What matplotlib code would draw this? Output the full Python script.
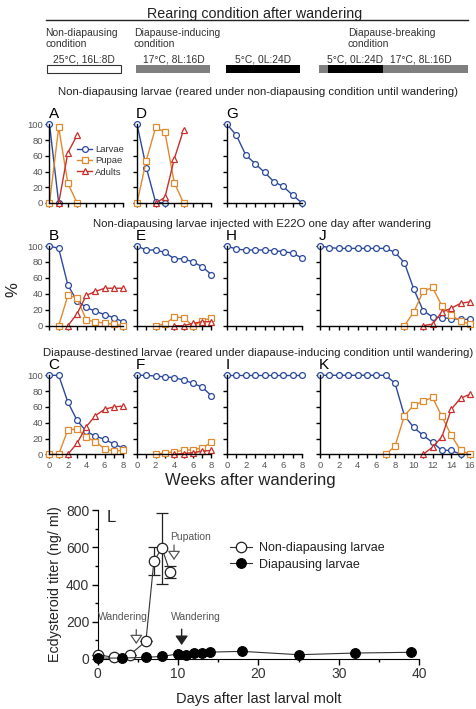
import matplotlib
matplotlib.use("Agg")
import matplotlib.pyplot as plt
from matplotlib.patches import Rectangle
from matplotlib.lines import Line2D

plt.rcParams['font.family'] = ['Liberation Sans', 'DejaVu Sans']

# ---------------- data ----------------
A_larvae_wk = [0, 1];                A_larvae = [100, 0]
A_pupae_wk = [0, 1, 2, 3];           A_pupae = [0, 96, 25, 0]
A_adults_wk = [1, 2, 3];             A_adults = [0, 64, 86]

D_larvae_wk = [0, 1, 2, 3];          D_larvae = [100, 45, 1, 0]
D_pupae_wk = [0, 1, 2, 3, 4, 5];     D_pupae = [0, 54, 96, 90, 26, 0]
D_adults_wk = [2, 3, 4, 5];          D_adults = [0, 7, 56, 93]

G_larvae_wk = list(range(9));        G_larvae = [100, 86, 61, 50, 39, 27, 21, 10, 0]

B_larvae_wk = list(range(9));        B_larvae = [100, 97, 51, 31, 23, 18, 14, 10, 5]
B_pupae_wk = list(range(1, 9));      B_pupae = [0, 38, 35, 7, 5, 3, 2, 0]
B_adults_wk = list(range(2, 9));     B_adults = [0, 15, 38, 43, 47, 47, 47]

E_larvae_wk = list(range(9));        E_larvae = [100, 95, 95, 92, 84, 84, 80, 74, 64]
E_pupae_wk = list(range(2, 9));      E_pupae = [0, 2, 11, 10, 0, 6, 10]
E_adults_wk = list(range(4, 9));     E_adults = [0, 0, 3, 5, 5]

H_larvae_wk = list(range(9));        H_larvae = [100, 96, 95, 95, 95, 94, 93, 91, 85]

J_larvae_wk = list(range(17));       J_larvae = [100, 98, 97, 97, 97, 97, 97, 97, 92, 79, 46, 19, 11, 10, 9, 8, 8]
J_pupae_wk = list(range(9, 17));     J_pupae = [0, 17, 43, 48, 25, 13, 6, 2]
J_adults_wk = list(range(11, 17));   J_adults = [0, 2, 17, 22, 28, 30]

C_larvae_wk = list(range(9));        C_larvae = [100, 100, 66, 43, 29, 23, 19, 13, 8]
C_pupae_wk = list(range(9));         C_pupae = [0, 0, 31, 32, 22, 16, 7, 4, 5]
C_adults_wk = list(range(2, 9));     C_adults = [0, 14, 35, 49, 57, 60, 61]

F_larvae_wk = list(range(9));        F_larvae = [100, 100, 99, 98, 97, 94, 90, 85, 74]
F_pupae_wk = list(range(2, 9));      F_pupae = [0, 2, 3, 5, 6, 8, 15]
F_adults_wk = list(range(4, 9));     F_adults = [0, 1, 2, 4, 5]

I_larvae_wk = list(range(9));        I_larvae = [100, 100, 100, 100, 100, 100, 100, 100, 100]

K_larvae_wk = list(range(16));       K_larvae = [100, 100, 100, 100, 100, 100, 100, 100, 90, 49, 34, 24, 15, 5, 5, 0]
K_pupae_wk = list(range(7, 17));     K_pupae = [0, 10, 49, 62, 67, 72, 48, 24, 5, 0]
K_adults_wk = list(range(11, 17));   K_adults = [0, 9, 22, 57, 71, 76]

series_labels = ["Larvae", "Pupae", "Adults"]

nd_days = [0, 2, 4, 6, 7, 8, 9]
nd_titer = [23, 9, 23, 95, 527, 595, 468]
nd_sem = [0, 0, 0, 0, 75, 190, 33]
d_days = [0, 3, 6, 8, 10, 11, 12, 13, 14, 18, 25, 32, 39]
d_titer = [5, 5, 9, 14, 27, 20, 32, 34, 37, 41, 23, 32, 36]

# ---------------- layout helpers ----------------
W, H = 477, 709
fig = plt.figure(figsize=(W / 100, H / 100), dpi=100)

def fx(x):
    return x / W

def fy(y):
    return 1 - y / H

def ax_px(x0, x1, ytop, ybot):
    return fig.add_axes([x0 / W, 1 - ybot / H, (x1 - x0) / W, (ybot - ytop) / H])

BLUE = '#2b4a9b'
ORANGE = '#e0892e'
RED = '#c9302c'
TICKC = '#555555'

def style(ax, xmax, ylab, xlab):
    ax.set_xlim(0, xmax)
    ax.set_ylim(0, 100)
    for s in ['top', 'right']:
        ax.spines[s].set_visible(False)
    for s in ['left', 'bottom']:
        ax.spines[s].set_linewidth(1.0)
    ax.set_xticks(range(xmax + 1))
    ax.set_yticks(range(0, 101, 20))
    ax.tick_params(direction='out', length=3, width=1, labelsize=6.8,
                   labelcolor=TICKC, pad=1.5)
    if xlab:
        ax.set_xticklabels([str(i) if i % 2 == 0 else '' for i in range(xmax + 1)])
    else:
        ax.set_xticklabels([])
    if not ylab:
        ax.set_yticklabels([])
    ax.patch.set_alpha(0)

def plot_series(ax, wk, vals, kind):
    color = {'L': BLUE, 'P': ORANGE, 'A': RED}[kind]
    marker = {'L': 'o', 'P': 's', 'A': '^'}[kind]
    ms = {'L': 4.2, 'P': 4.6, 'A': 4.6}[kind]
    return ax.plot(wk, vals, '-', marker=marker, color=color, mfc='white',
                   mec=color, ms=ms, mew=0.9, lw=1.0, clip_on=False)[0]

cols8 = [(49.5, 123), (137, 211.5), (227, 302)]
colJ = (320, 470)
rows = [(124.3, 203), (246, 325.7), (375.3, 454.3)]

panels = [
    ('A', 0, cols8[0], 8, [(A_larvae_wk, A_larvae, 'L'), (A_pupae_wk, A_pupae, 'P'), (A_adults_wk, A_adults, 'A')]),
    ('D', 0, cols8[1], 8, [(D_larvae_wk, D_larvae, 'L'), (D_pupae_wk, D_pupae, 'P'), (D_adults_wk, D_adults, 'A')]),
    ('G', 0, cols8[2], 8, [(G_larvae_wk, G_larvae, 'L')]),
    ('B', 1, cols8[0], 8, [(B_larvae_wk, B_larvae, 'L'), (B_pupae_wk, B_pupae, 'P'), (B_adults_wk, B_adults, 'A')]),
    ('E', 1, cols8[1], 8, [(E_larvae_wk, E_larvae, 'L'), (E_pupae_wk, E_pupae, 'P'), (E_adults_wk, E_adults, 'A')]),
    ('H', 1, cols8[2], 8, [(H_larvae_wk, H_larvae, 'L')]),
    ('J', 1, colJ, 16, [(J_larvae_wk, J_larvae, 'L'), (J_pupae_wk, J_pupae, 'P'), (J_adults_wk, J_adults, 'A')]),
    ('C', 2, cols8[0], 8, [(C_larvae_wk, C_larvae, 'L'), (C_pupae_wk, C_pupae, 'P'), (C_adults_wk, C_adults, 'A')]),
    ('F', 2, cols8[1], 8, [(F_larvae_wk, F_larvae, 'L'), (F_pupae_wk, F_pupae, 'P'), (F_adults_wk, F_adults, 'A')]),
    ('I', 2, cols8[2], 8, [(I_larvae_wk, I_larvae, 'L')]),
    ('K', 2, colJ, 16, [(K_larvae_wk, K_larvae, 'L'), (K_pupae_wk, K_pupae, 'P'), (K_adults_wk, K_adults, 'A')]),
]

for letter, r, (x0, x1), xmax, series in panels:
    ytop, ybot = rows[r]
    ax = ax_px(x0, x1, ytop, ybot)
    style(ax, xmax, ylab=(x0 < 60), xlab=(r == 2))
    hs = []
    for wk, vals, kind in series:
        hs.append(plot_series(ax, wk, vals, kind))
    fig.text(fx(x0 - 1), fy(ytop - 3.5), letter, fontsize=11, ha='left', va='bottom')
    if letter == 'A':
        ax.legend(hs, series_labels, loc='upper left',
                  bbox_to_anchor=(fx(77), fy(145)), bbox_transform=fig.transFigure,
                  frameon=False, fontsize=6.8, handlelength=1.6, handletextpad=0.3,
                  labelspacing=0.25, borderaxespad=0, borderpad=0,
                  labelcolor='#333333')

# row titles
fig.text(fx(258), fy(92), "Non-diapausing larvae (reared under non-diapausing condition until wandering)",
         fontsize=8.2, ha='center', va='center', color='#222222')
fig.text(fx(262), fy(224), "Non-diapausing larvae injected with E22O one day after wandering",
         fontsize=8.2, ha='center', va='center', color='#222222')
fig.text(fx(258), fy(353), "Diapause-destined larvae (reared under diapause-inducing condition until wandering)",
         fontsize=8.2, ha='center', va='center', color='#222222')

fig.text(fx(13), fy(290), "%", fontsize=12, rotation=90, ha='center', va='center', color='#222222')
fig.text(fx(250), fy(481), "Weeks after wandering", fontsize=12, ha='center', va='center', color='#222222')

# ---------------- header ----------------
fig.text(fx(255), fy(14), "Rearing condition after wandering", fontsize=10.3,
         ha='center', va='center', color='#222222')
fig.add_artist(Line2D([fx(46), fx(468)], [fy(20), fy(20)], color='#222222', lw=1.0))

hdr_kw = dict(fontsize=7.5, ha='left', va='center', color='#333333', linespacing=1.15)
fig.text(fx(45), fy(38.5), "Non-diapausing\ncondition", **hdr_kw)
fig.text(fx(134), fy(38.5), "Diapause-inducing\ncondition", **hdr_kw)
fig.text(fx(348), fy(38.5), "Diapause-breaking\ncondition", **hdr_kw)

cond_kw = dict(fontsize=7.4, ha='center', va='center', color='#333333')
fig.text(fx(83.5), fy(60), "25°C, 16L:8D", **cond_kw)
fig.text(fx(173.5), fy(60), "17°C, 8L:16D", **cond_kw)
fig.text(fx(263), fy(60), "5°C, 0L:24D", **cond_kw)
fig.text(fx(355), fy(60), "5°C, 0L:24D", **cond_kw)
fig.text(fx(421), fy(60), "17°C, 8L:16D", **cond_kw)

def bar(x0, x1, color, ec='none'):
    fig.add_artist(Rectangle((fx(x0), fy(73)), (x1 - x0) / W, 8 / H,
                             facecolor=color, edgecolor=ec, lw=0.8,
                             transform=fig.transFigure))

bar(46.5, 120.5, 'white', ec='#333333')
bar(136.5, 210, '#7f7f7f')
bar(226, 300, '#000000')
bar(319, 328, '#7f7f7f')
bar(328, 383, '#000000')
bar(383, 468, '#7f7f7f')

# ---------------- panel L ----------------
axL = ax_px(97.7, 419, 510, 659)
axL.set_xlim(0, 40)
axL.set_ylim(0, 800)
for s in ['top', 'right']:
    axL.spines[s].set_visible(False)
axL.set_xticks([0, 10, 20, 30, 40])
axL.set_xticks([5, 15, 25, 35], minor=True)
axL.set_yticks([0, 200, 400, 600, 800])
axL.set_yticks([100, 300, 500, 700], minor=True)
axL.tick_params(which='major', direction='out', length=4, width=1, labelsize=10,
                labelcolor='#333333', pad=2)
axL.tick_params(which='minor', direction='out', length=2.5, width=1)
axL.patch.set_alpha(0)

axL.errorbar(nd_days, nd_titer, yerr=nd_sem, fmt='none', ecolor='#222222',
             elinewidth=0.9, capsize=4, capthick=0.9, zorder=2, clip_on=False)
lnd, = axL.plot(nd_days, nd_titer, '-o', color='#333333', mfc='white', mec='#222222',
                ms=7.5, mew=0.9, lw=0.8, zorder=3, clip_on=False)
ld, = axL.plot(d_days, d_titer, '-o', color='#333333', mfc='black', mec='black',
               ms=7, mew=0.8, lw=0.8, zorder=4, clip_on=False)

axL.legend([lnd, ld], ["Non-diapausing larvae", "Diapausing larvae"],
           loc='center left', bbox_to_anchor=(fx(230), fy(556.5)),
           bbox_transform=fig.transFigure, frameon=False, fontsize=9,
           handlelength=1.8, handletextpad=0.5, labelspacing=0.35,
           borderaxespad=0, borderpad=0, labelcolor='#222222')

axL.set_ylabel("Ecdysteroid titer (ng/ ml)", fontsize=10.3, color='#222222', labelpad=3)
axL.set_xlabel("Days after last larval molt", fontsize=10.5, color='#222222', labelpad=8)
axL.text(1.1, 800, "L", fontsize=12, ha='left', va='top', color='#222222')

arrow_open = dict(arrowstyle='-|>,head_width=0.38,head_length=0.55', fc='white',
                  ec='#555555', lw=0.9, shrinkA=0, shrinkB=0, mutation_scale=10)
arrow_fill = dict(arrowstyle='-|>,head_width=0.38,head_length=0.55', fc='#222222',
                  ec='#222222', lw=1.0, shrinkA=0, shrinkB=0, mutation_scale=10)
axL.annotate('', xy=(4.8, 80), xytext=(4.8, 158), arrowprops=arrow_open)
axL.annotate('', xy=(10.45, 75), xytext=(10.45, 160), arrowprops=arrow_fill)
axL.annotate('', xy=(9.5, 531), xytext=(9.5, 612), arrowprops=arrow_open)
axL.text(3.1, 227, "Wandering", fontsize=7.5, ha='center', va='center', color='#555555')
axL.text(12.2, 227, "Wandering", fontsize=7.5, ha='center', va='center', color='#555555')
axL.text(11.5, 656, "Pupation", fontsize=7.5, ha='center', va='center', color='#555555')

fig.savefig("out.png", dpi=100)
